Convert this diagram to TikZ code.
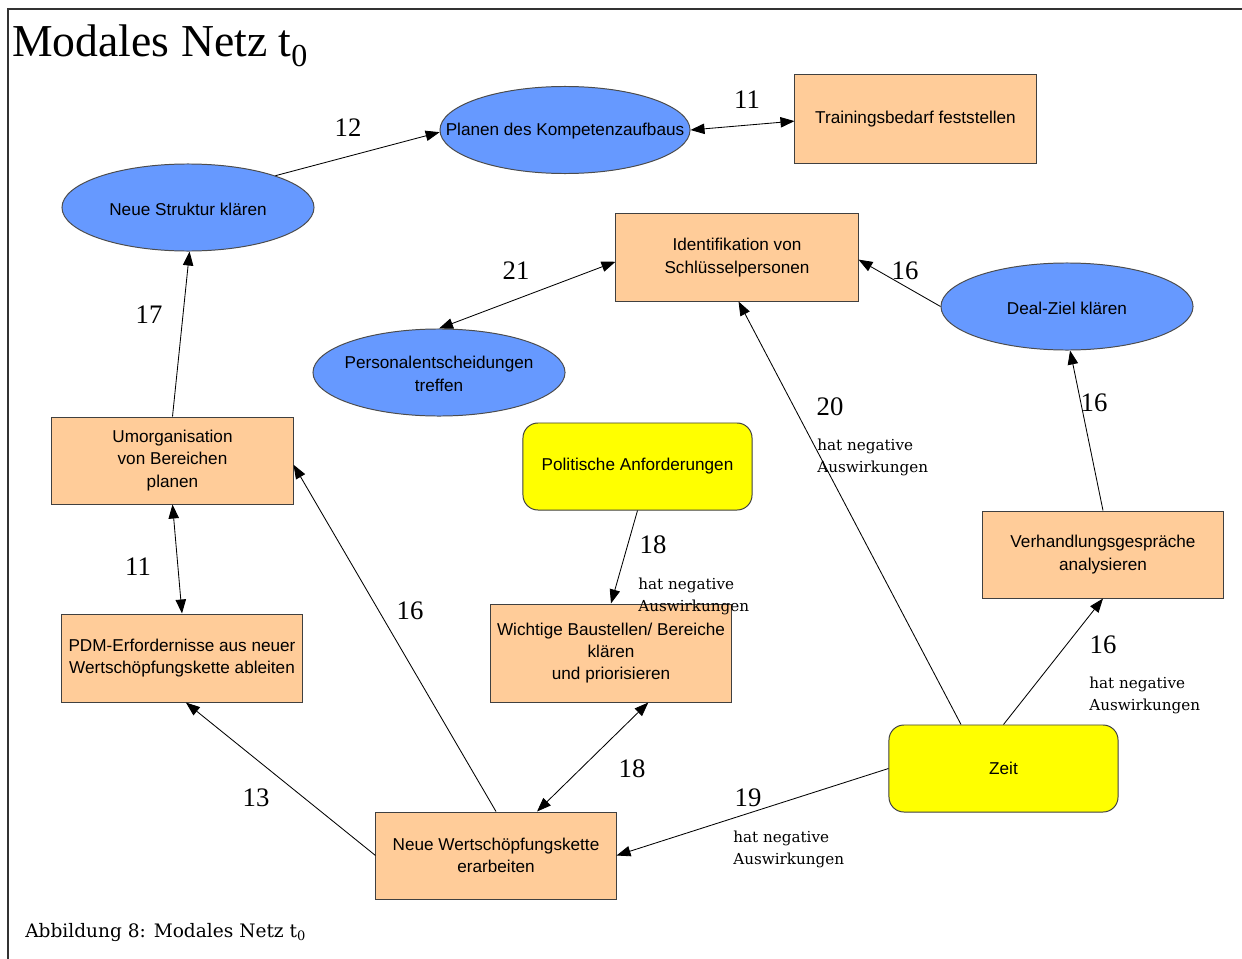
\documentclass[tikz,border=0pt]{standalone}
\usepackage{fontspec}
\setmainfont{Liberation Serif}
\setsansfont{Liberation Sans}
\newfontfamily\labfont{DejaVu Serif}
\usetikzlibrary{shapes.geometric,arrows.meta}
\definecolor{peach}{HTML}{FFCC99}
\definecolor{skyb}{HTML}{6699FF}
\definecolor{yel}{HTML}{FFFF00}
\begin{document}
\begin{tikzpicture}[x=0.025cm,y=-0.025cm,
  txt/.style={font=\sffamily\fontsize{12.2}{15.8}\selectfont, align=center, text=black, inner sep=0pt},
  box/.style={txt, rectangle, draw=black!75, fill=peach, line width=0.7pt, minimum width=6cm, minimum height=2.175cm},
  oval/.style={ellipse, draw=black!70, fill=skyb, line width=0.7pt, inner sep=0pt, minimum width=6.3cm, minimum height=2.175cm},
  ovaltxt/.style={txt, yshift=-1pt},
  ybox/.style={txt, rectangle, rounded corners=0.375cm, draw=black!75, fill=yel, line width=0.7pt, minimum width=5.725cm, minimum height=2.175cm},
  num/.style={font=\fontsize{19}{22}\selectfont, inner sep=0pt},
  neg/.style={font=\labfont\fontsize{10.8}{15.6}\selectfont, align=left, anchor=west, inner sep=0pt},
  tip/.tip={Triangle[length=0.35cm,width=0.26cm]},
  arr/.style={-tip, line width=0.6pt},
  darr/.style={tip-tip, line width=0.6pt}]
\useasboundingbox (0,0) rectangle (1242,959);
% frame
\draw[line width=1pt, black!80] (8,959) -- (8,9) -- (1242,9);
\node[anchor=base west, inner sep=0pt, font=\fontsize{32.5}{36}\selectfont] (title) at (12,57) {Modales Netz t\textsubscript{0}};
\node[anchor=base west, inner sep=0pt, font=\labfont\fontsize{13.2}{15}\selectfont] (caption) at (25,937) {Abbildung 8: Modales Netz t\textsubscript{0}};

% nodes
\node[oval, minimum width=6.25cm, label={[ovaltxt]center:Planen des Kompetenzaufbaus}] (planen) at (565,130) {};
\node[box, minimum width=6.025cm, minimum height=2.2cm] (train) at (915.5,119) {Trainingsbedarf feststellen};
\node[oval, label={[ovaltxt]center:Neue Struktur klären}] (struktur) at (188,207.5) {};
\node[box, minimum width=6.05cm] (ident) at (737,257.5) {Identifikation von\\Schlüsselpersonen};
\node[oval, label={[ovaltxt]center:Deal-Ziel klären}] (deal) at (1067,306.5) {};
\node[oval, label={[ovaltxt]center:Personalentscheidungen\\treffen}] (personal) at (439,372.5) {};
\node[box, minimum width=6.025cm] (umorg) at (172.5,460.5) {Umorganisation\\von Bereichen\\planen};
\node[ybox] (polit) at (637.5,466.5) {Politische Anforderungen};
\node[box] (verh) at (1103,554.5) {Verhandlungsgespräche\\analysieren};
\node[box, minimum height=2.2cm] (pdm) at (182,658) {PDM-Erfordernisse aus neuer\\Wertschöpfungskette ableiten};
\node[box, minimum height=2.45cm] (wichtig) at (611,653) {Wichtige Baustellen/ Bereiche\\klären\\und priorisieren};
\node[ybox] (zeit) at (1003.5,768.5) {Zeit};
\node[box] (wert) at (496,855.5) {Neue Wertschöpfungskette\\erarbeiten};

% connectors
\draw[arr] (struktur.20) -- (planen.181);
\draw[darr] (planen.east) -- (train.181);
\draw[darr] (ident.182) -- (personal.north);
\draw[arr] (deal.west) -- (ident.-1);
\draw[arr] (umorg.north) -- (struktur.-88);
\draw[darr] (umorg.south) -- (pdm.north);
\draw[arr] (wert.north) -- (umorg.-2);
\draw[arr] (polit.south) -- (wichtig.north);
\draw[arr] (wert.west) -- (pdm.-85);
\draw[darr] (wichtig.-53) -- (wert.47);
\draw[arr] (zeit.134) -- (ident.-88);
\draw[arr] (zeit.north) -- (verh.south);
\draw[arr] (verh.north) -- (deal.-86);
\draw[arr] (zeit.west) -- (wert.east);

% labels
\node[num] (l1) at (348,128) {12};
\node[num] (l2) at (747,100) {11};
\node[num] (l3) at (516,271) {21};
\node[num] (l4) at (905,271) {16};
\node[num] (l5) at (149,315) {17};
\node[num] (l6) at (138,567) {11};
\node[num] (l7) at (410,611) {16};
\node[num] (l8) at (653,545) {18};
\node[num] (l9) at (256,798) {13};
\node[num] (l10) at (632,769) {18};
\node[num] (l11) at (830,407) {20};
\node[num] (l12) at (1103,645) {16};
\node[num] (l13) at (1094,403) {16};
\node[num] (l14) at (748,798) {19};
\node[neg] (n1) at (638,596) {hat negative\\Auswirkungen};
\node[neg] (n2) at (817,457) {hat negative\\Auswirkungen};
\node[neg] (n3) at (1089,695) {hat negative\\Auswirkungen};
\node[neg] (n4) at (733,849) {hat negative\\Auswirkungen};
\end{tikzpicture}
\end{document}
